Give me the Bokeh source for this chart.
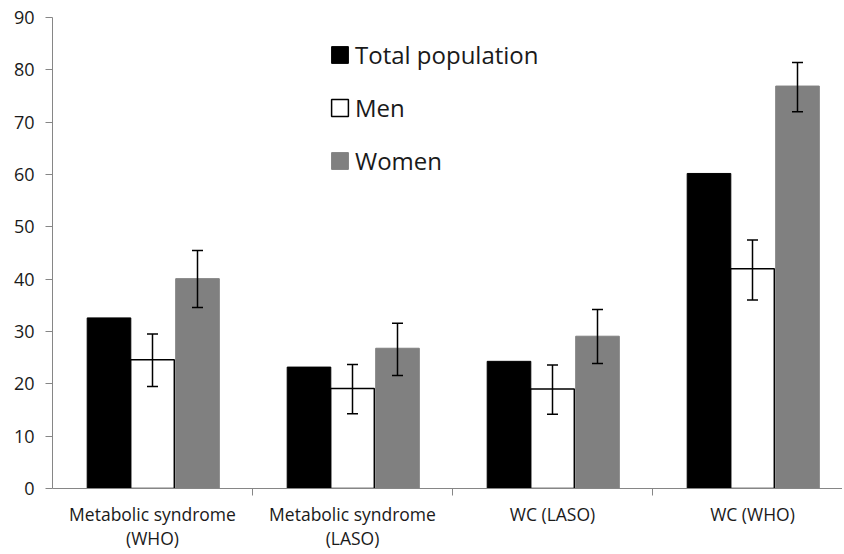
from bokeh.plotting import figure
from bokeh.models import Range1d, FixedTicker, Whisker, TeeHead, ColumnDataSource, Legend, LegendItem
from bokeh.transform import dodge
from bokeh.embed import file_html
from bokeh.resources import INLINE

categories = ["Metabolic syndrome\n(WHO)", "Metabolic syndrome\n(LASO)", "WC (LASO)", "WC (WHO)"]
total = [32.6, 23.2, 24.3, 60.2]
men = [24.6, 19.1, 19.0, 42.0]
men_lo = [19.5, 14.3, 14.2, 36.0]
men_hi = [29.5, 23.7, 23.6, 47.5]
women = [40.1, 26.8, 29.1, 76.9]
women_lo = [34.6, 21.6, 23.9, 72.0]
women_hi = [45.5, 31.6, 34.2, 81.4]
y_ticks = list(range(0, 91, 10))

centers = [i + 0.5 for i in range(len(categories))]
bounds = [i for i in range(1, len(categories))]

src = ColumnDataSource(dict(x=centers, total=total, men=men, men_lo=men_lo, men_hi=men_hi,
                            women=women, women_lo=women_lo, women_hi=women_hi))

FONT = "Open Sans"
TXT = "#1a1a1a"
AX = "#868686"

p = figure(width=842, height=552, output_backend="svg", toolbar_location=None,
           x_range=Range1d(0, 3.95), y_range=Range1d(0, 90),
           min_border_left=52, min_border_top=17, min_border_right=0, min_border_bottom=64)
p.outline_line_color = None
p.xgrid.visible = False
p.ygrid.visible = False

bw = 0.218
r1 = p.vbar(x=dodge("x", -0.2175), top="total", width=bw, source=src,
            fill_color="black", line_color="black", line_width=1)
r2 = p.vbar(x=dodge("x", 0.0), top="men", width=bw, source=src,
            fill_color="white", line_color="black", line_width=1.5)
r3 = p.vbar(x=dodge("x", 0.225), top="women", width=bw, source=src,
            fill_color="#808080", line_color="#808080", line_width=1)

for off, lo, hi in [(0.0, "men_lo", "men_hi"), (0.225, "women_lo", "women_hi")]:
    w = Whisker(base=dodge("x", off), lower=lo, upper=hi, source=src, dimension="height",
                line_color="black", line_width=1.5, level="overlay",
                upper_head=TeeHead(size=11, line_color="black", line_width=1.5),
                lower_head=TeeHead(size=11, line_color="black", line_width=1.5))
    p.add_layout(w)

# x axis
xa = p.xaxis[0]
xa.ticker = FixedTicker(ticks=centers, minor_ticks=bounds)
xa.major_label_overrides = {c: lab for c, lab in zip(centers, categories)}
xa.major_tick_line_color = None
xa.major_tick_in = 0
xa.major_tick_out = 0
xa.minor_tick_in = 0
xa.minor_tick_out = 7
xa.minor_tick_line_color = AX
xa.axis_line_color = AX
xa.major_label_standoff = 6
xa.major_label_text_font = FONT
xa.major_label_text_font_size = "17.5px"
xa.major_label_text_line_height = 1.0
xa.major_label_text_color = TXT

# y axis
ya = p.yaxis[0]
ya.ticker = FixedTicker(ticks=y_ticks, minor_ticks=[])
ya.major_tick_in = 0
ya.major_tick_out = 7
ya.major_tick_line_color = AX
ya.axis_line_color = AX
ya.major_label_standoff = 11
ya.major_label_text_font = FONT
ya.major_label_text_font_size = "18px"
ya.major_label_text_color = TXT

legend = Legend(items=[LegendItem(label="Total population", renderers=[r1]),
                       LegendItem(label="Men", renderers=[r2]),
                       LegendItem(label="Women", renderers=[r3])],
                location=(277, 311), orientation="vertical",
                glyph_width=21, glyph_height=21, label_height=21, spacing=20,
                label_standoff=5, padding=0, margin=0,
                border_line_color=None, background_fill_alpha=0,
                label_text_font=FONT, label_text_font_size="24px", label_text_color=TXT)
p.add_layout(legend)

open("out.html", "w").write(file_html(p, INLINE))
